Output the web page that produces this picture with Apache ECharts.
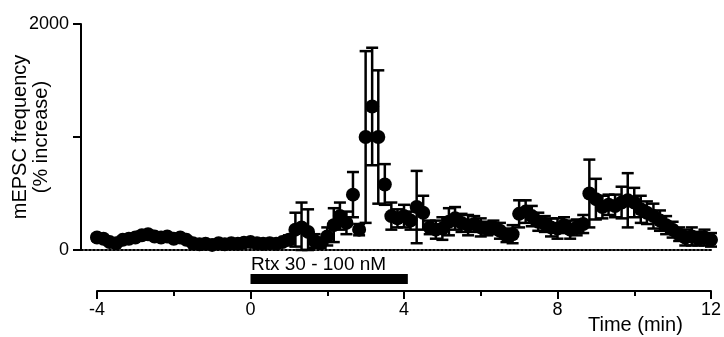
<!DOCTYPE html>
<html>
<head>
<meta charset="utf-8">
<script src="https://cdn.jsdelivr.net/npm/echarts@6/dist/echarts.min.js"></script>
<style>
  html, body { margin: 0; padding: 0; background: #fff; }
  #chart { width: 724px; height: 337px; }
</style>
</head>
<body>
<div id="chart"></div>
<script>
// time in min (10 s bins)
var times = [
  -4.00, -3.83, -3.67, -3.50, -3.33, -3.17, -3.00, -2.83, -2.67, -2.50,
  -2.33, -2.17, -2.00, -1.83, -1.67, -1.50, -1.33, -1.17, -1.00, -0.83,
  -0.67, -0.50, -0.33, -0.17, 0.00, 0.17, 0.33, 0.50, 0.67, 0.83,
  1.00, 1.17, 1.33, 1.50, 1.67, 1.83, 2.00, 2.17, 2.33, 2.50,
  2.67, 2.83, 3.00, 3.17, 3.33, 3.50, 3.67, 3.83, 4.00, 4.17,
  4.33, 4.50, 4.67, 4.83, 5.00, 5.17, 5.33, 5.50, 5.67, 5.83,
  6.00, 6.17, 6.33, 6.50, 6.67, 6.83, 7.00, 7.17, 7.33, 7.50,
  7.67, 7.83, 8.00, 8.17, 8.33, 8.50, 8.67, 8.83, 9.00, 9.17,
  9.33, 9.50, 9.67, 9.83, 10.00, 10.17, 10.33, 10.50, 10.67, 10.83,
  11.00, 11.17, 11.33, 11.50, 11.67, 11.83, 12.00
];
// mEPSC frequency, % increase
var freq = [
  110, 100, 70, 60, 90, 100, 110, 130, 140, 120,
  110, 120, 100, 110, 90, 60, 50, 55, 45, 60,
  50, 60, 55, 65, 70, 60, 55, 60, 55, 70,
  90, 180, 200, 160, 80, 60, 120, 220, 300, 240,
  490, 180, 1000, 1270, 1000, 580, 300, 280, 300, 260,
  380, 330, 200, 180, 190, 250, 280, 240, 220, 230,
  200, 190, 200, 170, 130, 140, 320, 340, 300, 250,
  230, 200, 190, 220, 180, 200, 230, 500, 450, 380,
  400, 390, 420, 440, 420, 360, 330, 300, 260, 220,
  180, 140, 110, 120, 100, 110, 90
];
// SEM
var sem = [
  25, 20, 25, 20, 25, 20, 25, 30, 25, 20,
  25, 20, 25, 20, 25, 20, 20, 25, 20, 25,
  20, 25, 20, 25, 30, 30, 30, 30, 30, 30,
  40, 150, 220, 200, 60, 40, 80, 150, 120, 100,
  200, 50, 760, 520, 590, 180, 120, 80, 100, 80,
  320, 150, 60, 80, 100, 120, 100, 80, 90, 70,
  80, 60, 60, 70, 60, 80, 120, 100, 90, 80,
  70, 80, 90, 70, 80, 70, 80, 300, 180, 100,
  90, 100, 140, 240, 130, 120, 100, 110, 90, 80,
  70, 60, 70, 80, 60, 70, 60
];
var rtxStart = 0, rtxEnd = 4.1;

var points = times.map(function (t, i) { return [t, freq[i], sem[i]]; });

var chart = echarts.init(document.getElementById('chart'), null, { renderer: 'canvas' });
var font = 'Liberation Sans, Arial, sans-serif';

var option = {
  animation: false,
  grid: [
    { left: 81, right: 13, top: 24, height: 226, outerBoundsMode: 'none' },
    { left: 97, right: 13, top: 260, height: 31, outerBoundsMode: 'none' }
  ],
  xAxis: [
    {
      gridIndex: 0, type: 'value', min: -4.417, max: 12,
      axisLine: { show: true, onZero: false, lineStyle: { color: '#000', width: 2, type: [2, 2] } },
      axisTick: { show: false }, axisLabel: { show: false }, splitLine: { show: false }
    },
    {
      gridIndex: 1, type: 'value', min: -4, max: 12, interval: 4,
      axisLine: { show: true, onZero: false, lineStyle: { color: '#000', width: 2 } },
      axisTick: { show: true, length: 8, lineStyle: { color: '#000', width: 2 } },
      minorTick: { show: true, splitNumber: 2, length: 5, lineStyle: { color: '#000', width: 2 } },
      axisLabel: { color: '#000', fontSize: 18, fontFamily: font, margin: 10 },
      splitLine: { show: false }
    }
  ],
  yAxis: [
    {
      gridIndex: 0, type: 'value', min: 0, max: 2000, interval: 1000,
      name: 'mEPSC frequency\n(% increase)', nameLocation: 'middle', nameGap: 29,
      nameMoveOverlap: false,
      nameTextStyle: { color: '#000', fontSize: 20, fontFamily: font, lineHeight: 21 },
      axisLine: { show: true, onZero: false, lineStyle: { color: '#000', width: 2 } },
      axisTick: { show: true, length: 8, lineStyle: { color: '#000', width: 2 } },
      axisLabel: {
        color: '#000', fontSize: 18, fontFamily: font, margin: 12,
        formatter: function (v) { return v === 1000 ? '' : String(v); }
      },
      splitLine: { show: false }
    },
    { gridIndex: 1, type: 'value', min: 0, max: 1, show: false }
  ],
  graphic: [
    { type: 'text', left: 251, top: 255, style: { text: 'Rtx 30 - 100 nM', font: '19px ' + font, fill: '#000' } },
    { type: 'text', left: 588, top: 315, style: { text: 'Time (min)', font: '20px ' + font, fill: '#000' } }
  ],
  series: [
    {
      type: 'custom', xAxisIndex: 0, yAxisIndex: 0, data: points,
      renderItem: function (params, api) {
        var t = api.value(0), v = api.value(1), e = api.value(2);
        var hi = api.coord([t, v + e]);
        var lo = api.coord([t, Math.max(v - e, 0)]);
        var w = 6;
        var st = { stroke: '#000', lineWidth: 2.5 };
        return {
          type: 'group',
          children: [
            { type: 'line', shape: { x1: hi[0], y1: hi[1], x2: lo[0], y2: lo[1] }, style: st },
            { type: 'line', shape: { x1: hi[0] - w, y1: hi[1], x2: hi[0] + w, y2: hi[1] }, style: st },
            { type: 'line', shape: { x1: lo[0] - w, y1: lo[1], x2: lo[0] + w, y2: lo[1] }, style: st }
          ]
        };
      },
      encode: { x: 0, y: 1 }, z: 2
    },
    {
      type: 'scatter', xAxisIndex: 0, yAxisIndex: 0, data: points,
      symbol: 'circle', symbolSize: 14, itemStyle: { color: '#000', opacity: 1 }, z: 3
    },
    {
      type: 'line', xAxisIndex: 1, yAxisIndex: 1,
      data: [[rtxStart, 0.39], [rtxEnd, 0.39]],
      symbol: 'none', lineStyle: { color: '#000', width: 10, cap: 'butt' }
    }
  ]
};
chart.setOption(option);
</script>
</body>
</html>
